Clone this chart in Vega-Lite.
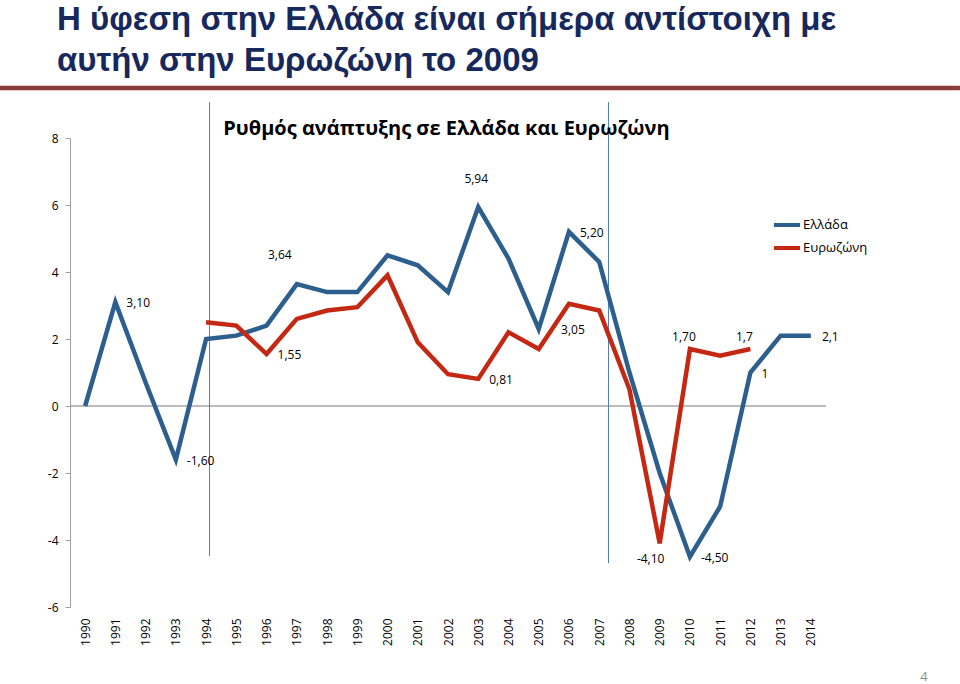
{
  "$schema": "https://vega.github.io/schema/vega-lite/v6.json",
  "width": 756,
  "height": 469,
  "autosize": {"type": "none"},
  "padding": {"left": 70, "top": 138, "right": 134, "bottom": 77},
  "background": "white",
  "config": {"view": {"stroke": null}, "font": "Open Sans"},
  "title": {
    "text": ["Η ύφεση στην Ελλάδα είναι σήμερα αντίστοιχη με", "αυτήν στην Ευρωζώνη το 2009"],
    "anchor": "start",
    "frame": "group",
    "dx": -13,
    "dy": 33,
    "font": "Liberation Sans",
    "fontSize": 33,
    "fontWeight": "bold",
    "color": "#17285C",
    "lineHeight": 41,
    "offset": 8,
    "baseline": "bottom"
  },
  "datasets": {
    "growth": [
      {"year": 1990, "series": "Ελλάδα", "value": 0, "label": null},
      {"year": 1991, "series": "Ελλάδα", "value": 3.1, "label": "3,10"},
      {"year": 1992, "series": "Ελλάδα", "value": 0.7, "label": null},
      {"year": 1993, "series": "Ελλάδα", "value": -1.6, "label": "-1,60"},
      {"year": 1994, "series": "Ελλάδα", "value": 2.0, "label": null},
      {"year": 1995, "series": "Ελλάδα", "value": 2.1, "label": null},
      {"year": 1996, "series": "Ελλάδα", "value": 2.4, "label": null},
      {"year": 1997, "series": "Ελλάδα", "value": 3.64, "label": "3,64"},
      {"year": 1998, "series": "Ελλάδα", "value": 3.4, "label": null},
      {"year": 1999, "series": "Ελλάδα", "value": 3.4, "label": null},
      {"year": 2000, "series": "Ελλάδα", "value": 4.5, "label": null},
      {"year": 2001, "series": "Ελλάδα", "value": 4.2, "label": null},
      {"year": 2002, "series": "Ελλάδα", "value": 3.4, "label": null},
      {"year": 2003, "series": "Ελλάδα", "value": 5.94, "label": "5,94"},
      {"year": 2004, "series": "Ελλάδα", "value": 4.4, "label": null},
      {"year": 2005, "series": "Ελλάδα", "value": 2.3, "label": null},
      {"year": 2006, "series": "Ελλάδα", "value": 5.2, "label": "5,20"},
      {"year": 2007, "series": "Ελλάδα", "value": 4.3, "label": null},
      {"year": 2008, "series": "Ελλάδα", "value": 1.0, "label": null},
      {"year": 2009, "series": "Ελλάδα", "value": -2.0, "label": null},
      {"year": 2010, "series": "Ελλάδα", "value": -4.5, "label": "-4,50"},
      {"year": 2011, "series": "Ελλάδα", "value": -3.0, "label": null},
      {"year": 2012, "series": "Ελλάδα", "value": 1.0, "label": "1"},
      {"year": 2013, "series": "Ελλάδα", "value": 2.1, "label": null},
      {"year": 2014, "series": "Ελλάδα", "value": 2.1, "label": "2,1"},
      {"year": 1994, "series": "Ευρωζώνη", "value": 2.5, "label": null},
      {"year": 1995, "series": "Ευρωζώνη", "value": 2.4, "label": null},
      {"year": 1996, "series": "Ευρωζώνη", "value": 1.55, "label": "1,55"},
      {"year": 1997, "series": "Ευρωζώνη", "value": 2.6, "label": null},
      {"year": 1998, "series": "Ευρωζώνη", "value": 2.85, "label": null},
      {"year": 1999, "series": "Ευρωζώνη", "value": 2.95, "label": null},
      {"year": 2000, "series": "Ευρωζώνη", "value": 3.9, "label": null},
      {"year": 2001, "series": "Ευρωζώνη", "value": 1.9, "label": null},
      {"year": 2002, "series": "Ευρωζώνη", "value": 0.95, "label": null},
      {"year": 2003, "series": "Ευρωζώνη", "value": 0.81, "label": "0,81"},
      {"year": 2004, "series": "Ευρωζώνη", "value": 2.2, "label": null},
      {"year": 2005, "series": "Ευρωζώνη", "value": 1.7, "label": null},
      {"year": 2006, "series": "Ευρωζώνη", "value": 3.05, "label": "3,05"},
      {"year": 2007, "series": "Ευρωζώνη", "value": 2.85, "label": null},
      {"year": 2008, "series": "Ευρωζώνη", "value": 0.5, "label": null},
      {"year": 2009, "series": "Ευρωζώνη", "value": -4.1, "label": "-4,10"},
      {"year": 2010, "series": "Ευρωζώνη", "value": 1.7, "label": "1,70"},
      {"year": 2011, "series": "Ευρωζώνη", "value": 1.5, "label": null},
      {"year": 2012, "series": "Ευρωζώνη", "value": 1.7, "label": "1,7"}
    ],
    "guides": [
      {"x": 1994.113, "top": 9.07, "bottom": -4.48},
      {"x": 2007.308, "top": 9.07, "bottom": -4.69}
    ]
  },
  "resolve": {"scale": {"x": "independent"}, "axis": {"x": "independent"}},
  "layer": [
    {
      "layer": [
        {
          "data": {"values": [{}]},
          "mark": {"type": "rule", "color": "#8A3A38", "strokeWidth": 4.5},
          "encoding": {
            "x": {
              "datum": 1987.18,
              "type": "quantitative",
              "scale": {"domain": [1989.5, 2014.5], "nice": false, "zero": false},
              "axis": null
            },
            "x2": {"datum": 2018.93},
            "y": {
              "datum": 9.49,
              "type": "quantitative",
              "scale": {"domain": [-6, 8], "nice": false, "zero": false},
              "axis": {
                "values": [-6, -4, -2, 0, 2, 4, 6, 8],
                "labelExpr": "toString(datum.value)",
                "grid": false,
                "domainColor": "#A0A0A0",
                "tickColor": "#A0A0A0",
                "tickSize": 5,
                "labelPadding": 7,
                "labelFontSize": 12,
                "labelColor": "#000000",
                "title": null,
                "labelFlush": false
              }
            }
          }
        },
        {
          "data": {"values": [{}]},
          "mark": {"type": "rule", "color": "#A6A6A6", "strokeWidth": 1.5},
          "encoding": {
            "y": {"datum": 0, "type": "quantitative"}
          }
        },
        {
          "data": {"name": "guides"},
          "mark": {"type": "rule", "color": "#4F81BD", "strokeWidth": 1},
          "encoding": {
            "x": {"field": "x", "type": "quantitative", "axis": null},
            "y": {"field": "top", "type": "quantitative"},
            "y2": {"field": "bottom"}
          }
        },
        {
          "data": {"values": [{"t": "Ρυθμός ανάπτυξης σε Ελλάδα και Ευρωζώνη"}]},
          "mark": {"type": "text", "align": "center", "baseline": "alphabetic", "fontSize": 20, "fontWeight": "bold", "color": "#000000"},
          "encoding": {
            "x": {"datum": 2001.95, "type": "quantitative", "axis": null},
            "y": {"datum": 8.1, "type": "quantitative"},
            "text": {"field": "t"}
          }
        },
        {
          "data": {"values": [{"t": "4"}]},
          "mark": {"type": "text", "align": "center", "baseline": "alphabetic", "fontSize": 13, "color": "#8C8C8C"},
          "encoding": {
            "x": {"datum": 2017.74, "type": "quantitative", "axis": null},
            "y": {"datum": -8.2, "type": "quantitative"},
            "text": {"field": "t"}
          }
        }
      ]
    },
    {
      "data": {"name": "growth"},
      "layer": [
        {
          "mark": {"type": "line", "strokeWidth": 4.5},
          "encoding": {
            "x": {
              "field": "year",
              "type": "ordinal",
              "scale": {"type": "point", "padding": 0.5},
              "axis": {
                "labelAngle": -90,
                "labelAlign": "right",
                "labelBaseline": "middle",
                "ticks": false,
                "domain": false,
                "grid": false,
                "title": null,
                "labelPadding": 11,
                "labelFontSize": 12,
                "labelColor": "#000000",
                "labelOverlap": false
              }
            },
            "y": {"field": "value", "type": "quantitative"},
            "color": {
              "field": "series",
              "type": "nominal",
              "scale": {"domain": ["Ελλάδα", "Ευρωζώνη"], "range": ["#2D5F8E", "#C42812"]},
              "legend": {
                "title": null,
                "orient": "none",
                "legendX": 702,
                "legendY": 72,
                "symbolType": "stroke",
                "symbolSize": 676,
                "symbolStrokeWidth": 4,
                "labelFontSize": 13,
                "labelColor": "#000000",
                "labelOffset": 1,
                "rowPadding": 0
              }
            }
          }
        },
        {
          "transform": [{"filter": {"field": "label", "oneOf": ["3,10", "-1,60", "1,55", "0,81", "5,20", "-4,50", "2,1", "1"]}}],
          "mark": {"type": "text", "align": "left", "baseline": "middle", "dx": 11, "dy": 1, "fontSize": 12, "color": "#000000"},
          "encoding": {
            "x": {"field": "year", "type": "ordinal"},
            "y": {"field": "value", "type": "quantitative"},
            "text": {"field": "label"}
          }
        },
        {
          "transform": [{"filter": {"field": "label", "equal": "5,94"}}],
          "mark": {"type": "text", "align": "center", "baseline": "middle", "dx": -2, "dy": -28, "fontSize": 12, "color": "#000000"},
          "encoding": {
            "x": {"field": "year", "type": "ordinal"},
            "y": {"field": "value", "type": "quantitative"},
            "text": {"field": "label"}
          }
        },
        {
          "transform": [{"filter": {"field": "label", "equal": "3,64"}}],
          "mark": {"type": "text", "align": "center", "baseline": "middle", "dx": -17, "dy": -29, "fontSize": 12, "color": "#000000"},
          "encoding": {
            "x": {"field": "year", "type": "ordinal"},
            "y": {"field": "value", "type": "quantitative"},
            "text": {"field": "label"}
          }
        },
        {
          "transform": [{"filter": {"field": "label", "equal": "3,05"}}],
          "mark": {"type": "text", "align": "center", "baseline": "middle", "dx": 4, "dy": 26, "fontSize": 12, "color": "#000000"},
          "encoding": {
            "x": {"field": "year", "type": "ordinal"},
            "y": {"field": "value", "type": "quantitative"},
            "text": {"field": "label"}
          }
        },
        {
          "transform": [{"filter": {"field": "label", "oneOf": ["1,70", "1,7"]}}],
          "mark": {"type": "text", "align": "center", "baseline": "middle", "dx": -6, "dy": -12, "fontSize": 12, "color": "#000000"},
          "encoding": {
            "x": {"field": "year", "type": "ordinal"},
            "y": {"field": "value", "type": "quantitative"},
            "text": {"field": "label"}
          }
        },
        {
          "transform": [{"filter": {"field": "label", "equal": "-4,10"}}],
          "mark": {"type": "text", "align": "center", "baseline": "middle", "dx": -9, "dy": 16, "fontSize": 12, "color": "#000000"},
          "encoding": {
            "x": {"field": "year", "type": "ordinal"},
            "y": {"field": "value", "type": "quantitative"},
            "text": {"field": "label"}
          }
        }
      ]
    }
  ]
}
